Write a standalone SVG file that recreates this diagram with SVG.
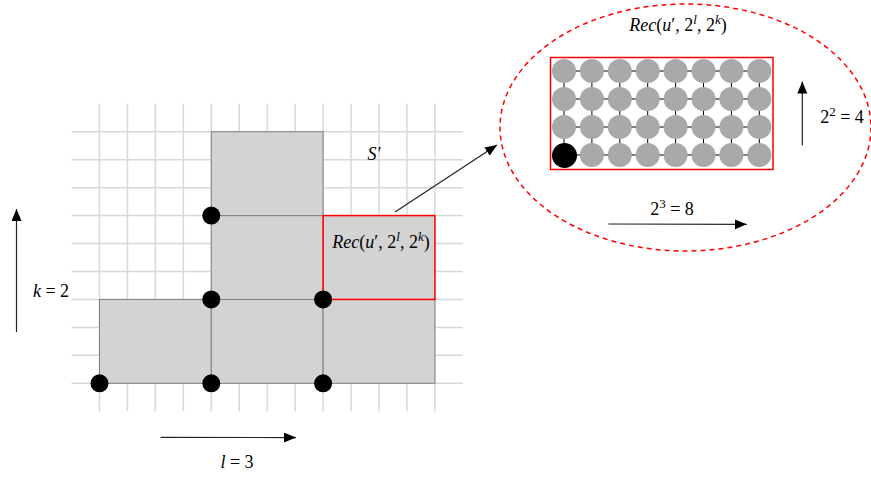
<svg xmlns="http://www.w3.org/2000/svg" width="871" height="479" viewBox="0 0 871 479">
<defs>
<marker id="ah" markerUnits="userSpaceOnUse" markerWidth="14" markerHeight="11" refX="12" refY="5" orient="auto">
<path d="M0,0 L12,5 L0,10 Z" fill="#000"/>
</marker>
<style>
.grid line{stroke:#d8d8d8;stroke-width:1.5}
.cell{fill:#d3d3d3;stroke:#808080;stroke-width:1}
.red{fill:none;stroke:#ff0000;stroke-width:1.5}
.dot{fill:#000}
.g{fill:#a9a9a9}
.lat line{stroke:#000;stroke-width:1}
.arr{stroke:#222;stroke-width:1.2;fill:none;marker-end:url(#ah)}
.t{font-family:'Liberation Serif','DejaVu Serif',serif;font-size:18px;fill:#000}
.i{font-style:italic}
.s{font-size:13px}
</style>
</defs>
<rect x="0" y="0" width="871" height="479" fill="#fff"/>
<g class="grid" id="grid">
<line x1="99.5" y1="103.8" x2="99.5" y2="411.3"/>
<line x1="127.45" y1="103.8" x2="127.45" y2="411.3"/>
<line x1="155.4" y1="103.8" x2="155.4" y2="411.3"/>
<line x1="183.35" y1="103.8" x2="183.35" y2="411.3"/>
<line x1="211.3" y1="103.8" x2="211.3" y2="411.3"/>
<line x1="239.25" y1="103.8" x2="239.25" y2="411.3"/>
<line x1="267.2" y1="103.8" x2="267.2" y2="411.3"/>
<line x1="295.15" y1="103.8" x2="295.15" y2="411.3"/>
<line x1="323.1" y1="103.8" x2="323.1" y2="411.3"/>
<line x1="351.05" y1="103.8" x2="351.05" y2="411.3"/>
<line x1="379" y1="103.8" x2="379" y2="411.3"/>
<line x1="406.95" y1="103.8" x2="406.95" y2="411.3"/>
<line x1="434.9" y1="103.8" x2="434.9" y2="411.3"/>
<line x1="71.5" y1="383.3" x2="462.9" y2="383.3"/>
<line x1="71.5" y1="355.35" x2="462.9" y2="355.35"/>
<line x1="71.5" y1="327.4" x2="462.9" y2="327.4"/>
<line x1="71.5" y1="299.45" x2="462.9" y2="299.45"/>
<line x1="71.5" y1="271.5" x2="462.9" y2="271.5"/>
<line x1="71.5" y1="243.55" x2="462.9" y2="243.55"/>
<line x1="71.5" y1="215.6" x2="462.9" y2="215.6"/>
<line x1="71.5" y1="187.65" x2="462.9" y2="187.65"/>
<line x1="71.5" y1="159.7" x2="462.9" y2="159.7"/>
<line x1="71.5" y1="131.75" x2="462.9" y2="131.75"/>
</g>
<g id="cells">
<rect class="cell" x="99.5" y="299.45" width="111.8" height="83.85"/>
<rect class="cell" x="211.3" y="299.45" width="111.8" height="83.85"/>
<rect class="cell" x="323.1" y="299.45" width="111.8" height="83.85"/>
<rect class="cell" x="211.3" y="215.6" width="111.8" height="83.85"/>
<rect class="cell" x="211.3" y="131.75" width="111.8" height="83.85"/>
</g>
<g id="rec-small">
<rect x="323.1" y="215.6" width="111.8" height="83.85" fill="#d3d3d3" stroke="#ff0000" stroke-width="1.5"/>
<text class="t" font-family="Liberation Serif, serif" x="381" y="248" text-anchor="middle"><tspan class="i">Rec</tspan>(<tspan class="i">u</tspan>′, 2<tspan class="s i" dy="-7">l</tspan><tspan dy="7">, 2</tspan><tspan class="s i" dy="-7">k</tspan><tspan dy="7">)</tspan></text>
</g>
<g id="dots">
<circle class="dot" cx="99.5" cy="383.3" r="9"/>
<circle class="dot" cx="211.3" cy="383.3" r="9"/>
<circle class="dot" cx="323.1" cy="383.3" r="9"/>
<circle class="dot" cx="211.3" cy="299.45" r="9"/>
<circle class="dot" cx="323.1" cy="299.45" r="9"/>
<circle class="dot" cx="211.3" cy="215.6" r="9"/>
</g>
<g id="label-S">
<text class="t i" font-family="Liberation Serif, serif" x="374" y="160" text-anchor="middle">S′</text>
</g>
<g id="zoom-ellipse">
<ellipse cx="685.5" cy="127.5" rx="185.5" ry="123.5" fill="none" stroke="#ff0000" stroke-width="1.5" stroke-dasharray="5,4"/>
<text class="t" font-family="Liberation Serif, serif" x="678" y="31" text-anchor="middle"><tspan class="i">Rec</tspan>(<tspan class="i">u</tspan>′, 2<tspan class="s i" dy="-7">l</tspan><tspan dy="7">, 2</tspan><tspan class="s i" dy="-7">k</tspan><tspan dy="7">)</tspan></text>
</g>
<g id="lattice">
<g class="lat">
<line x1="564" y1="71" x2="759.3" y2="71"/>
<line x1="564" y1="99" x2="759.3" y2="99"/>
<line x1="564" y1="127" x2="759.3" y2="127"/>
<line x1="564" y1="155" x2="759.3" y2="155"/>
<line x1="564" y1="71" x2="564" y2="155"/>
<line x1="591.9" y1="71" x2="591.9" y2="155"/>
<line x1="619.8" y1="71" x2="619.8" y2="155"/>
<line x1="647.7" y1="71" x2="647.7" y2="155"/>
<line x1="675.6" y1="71" x2="675.6" y2="155"/>
<line x1="703.5" y1="71" x2="703.5" y2="155"/>
<line x1="731.4" y1="71" x2="731.4" y2="155"/>
<line x1="759.3" y1="71" x2="759.3" y2="155"/>
</g>
<g>
<circle class="g" cx="564" cy="71" r="12"/><circle class="g" cx="591.9" cy="71" r="12"/><circle class="g" cx="619.8" cy="71" r="12"/><circle class="g" cx="647.7" cy="71" r="12"/><circle class="g" cx="675.6" cy="71" r="12"/><circle class="g" cx="703.5" cy="71" r="12"/><circle class="g" cx="731.4" cy="71" r="12"/><circle class="g" cx="759.3" cy="71" r="12"/>
<circle class="g" cx="564" cy="99" r="12"/><circle class="g" cx="591.9" cy="99" r="12"/><circle class="g" cx="619.8" cy="99" r="12"/><circle class="g" cx="647.7" cy="99" r="12"/><circle class="g" cx="675.6" cy="99" r="12"/><circle class="g" cx="703.5" cy="99" r="12"/><circle class="g" cx="731.4" cy="99" r="12"/><circle class="g" cx="759.3" cy="99" r="12"/>
<circle class="g" cx="564" cy="127" r="12"/><circle class="g" cx="591.9" cy="127" r="12"/><circle class="g" cx="619.8" cy="127" r="12"/><circle class="g" cx="647.7" cy="127" r="12"/><circle class="g" cx="675.6" cy="127" r="12"/><circle class="g" cx="703.5" cy="127" r="12"/><circle class="g" cx="731.4" cy="127" r="12"/><circle class="g" cx="759.3" cy="127" r="12"/>
<circle class="dot" cx="564.5" cy="155.5" r="12.5"/><circle class="g" cx="591.9" cy="155" r="12"/><circle class="g" cx="619.8" cy="155" r="12"/><circle class="g" cx="647.7" cy="155" r="12"/><circle class="g" cx="675.6" cy="155" r="12"/><circle class="g" cx="703.5" cy="155" r="12"/><circle class="g" cx="731.4" cy="155" r="12"/><circle class="g" cx="759.3" cy="155" r="12"/>
</g>
<rect class="red" x="550.5" y="57.5" width="222.5" height="112"/>
</g>
<g id="connectors">
<line class="arr" x1="395" y1="212" x2="497" y2="145"/>
<line class="arr" x1="16.5" y1="332" x2="16.5" y2="209"/>
<line class="arr" x1="160.5" y1="437.3" x2="296" y2="437.6"/>
<line class="arr" x1="802.3" y1="145.5" x2="802.3" y2="81.5"/>
<line class="arr" x1="608.3" y1="224" x2="746.7" y2="224.3"/>
</g>
<g id="labels">
<text class="t" font-family="Liberation Serif, serif" x="51" y="297" text-anchor="middle"><tspan class="i">k</tspan> = 2</text>
<text class="t" font-family="Liberation Serif, serif" x="237" y="468" text-anchor="middle"><tspan class="i">l</tspan> = 3</text>
<text class="t" font-family="Liberation Serif, serif" x="842" y="123" text-anchor="middle">2<tspan class="s" dy="-7">2</tspan><tspan dy="7"> = 4</tspan></text>
<text class="t" font-family="Liberation Serif, serif" x="672" y="215" text-anchor="middle">2<tspan class="s" dy="-7">3</tspan><tspan dy="7"> = 8</tspan></text>
</g>
</svg>
